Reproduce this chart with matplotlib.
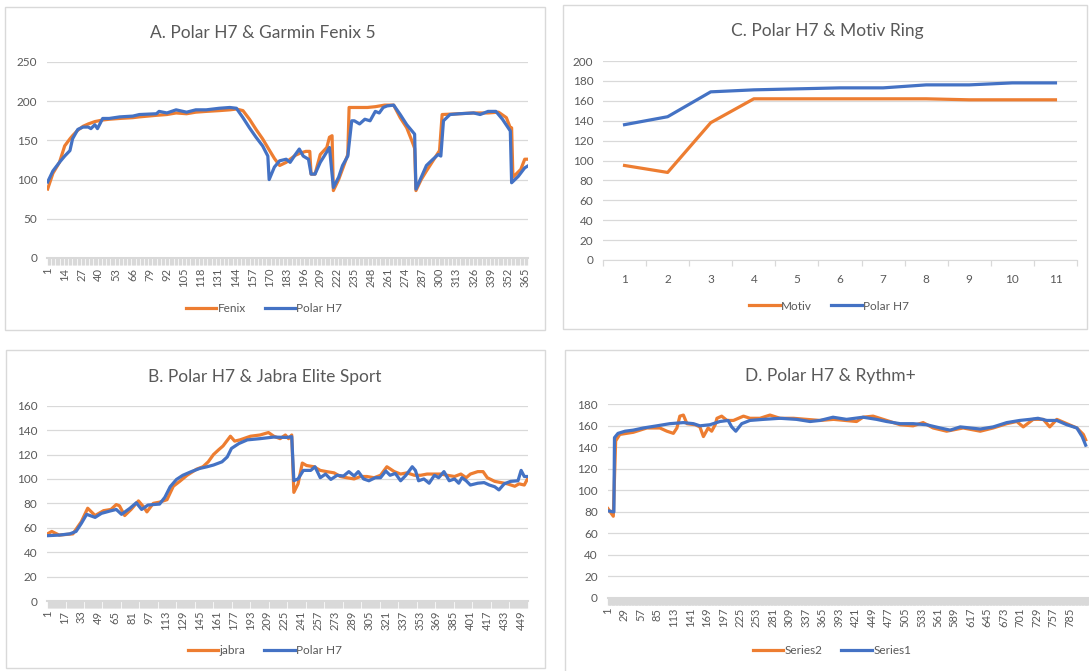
import matplotlib
matplotlib.use('Agg')
import matplotlib.pyplot as plt
from matplotlib.patches import Rectangle
from matplotlib.lines import Line2D

# ---------------- DATA ----------------
# Panel A: Polar H7 & Garmin Fenix 5 (sample index, heart rate)
a_polar_idx = [1, 5, 10, 14, 18, 20, 24, 28, 32, 34, 37, 39, 43, 48, 56, 66, 71, 84, 86, 92,
               99, 107, 114, 122, 132, 140, 145, 150, 155, 160, 165, 169, 170, 174, 178, 183,
               186, 190, 193, 196, 200, 202, 205, 209, 212, 216, 219, 223, 226, 230, 233, 235,
               239, 243, 247, 251, 254, 257, 260, 265, 270, 275, 279, 281, 282, 285, 290, 295,
               299, 301, 303, 308, 315, 326, 331, 337, 343, 348, 354, 355, 360, 365, 367]
a_polar_hr = [97, 111, 122, 130, 137, 152, 164, 167, 167, 165, 170, 165, 178, 178, 180, 181, 183, 184, 187, 185,
              189, 186, 189, 189, 191, 192, 191, 179, 166, 154, 143, 130, 100, 116, 124, 126,
              122, 132, 139, 130, 126, 107, 107, 122, 130, 141, 90, 103, 118, 130, 175, 175,
              171, 177, 175, 187, 185, 192, 194, 195, 183, 170, 162, 158, 88, 99, 118, 126,
              132, 130, 175, 183, 184, 185, 183, 187, 187, 177, 162, 96, 104, 115, 117]
a_fenix_idx = [1, 5, 10, 14, 18, 20, 24, 28, 32, 37, 43, 48, 56, 66, 71, 84, 92, 99, 107, 114,
               122, 132, 140, 145, 150, 155, 160, 165, 170, 174, 178, 183, 186, 190, 194, 198,
               201, 202, 205, 209, 214, 216, 218, 219, 223, 227, 230, 231, 245, 251, 258, 265,
               270, 275, 279, 281, 282, 286, 290, 295, 300, 302, 315, 326, 337, 345, 351, 354,
               355, 356, 362, 365, 367]
a_fenix_hr = [88, 108, 122, 143, 152, 156, 163, 168, 171, 174, 176, 177, 178, 179, 180, 182, 183, 185, 184, 186,
              187, 188, 189, 190, 188, 177, 164, 152, 138, 127, 118, 122, 126, 131, 134, 136,
              136, 107, 107, 132, 141, 154, 156, 86, 100, 118, 132, 192, 192, 193, 195, 195,
              179, 166, 149, 140, 86, 100, 111, 124, 137, 183, 184, 185, 185, 186, 179, 166,
              166, 103, 113, 126, 126]
a_n = 367
a_xlabels = list(range(1, 367, 13))

# Panel B: Polar H7 & Jabra Elite Sport
b_polar_idx = [1, 12, 22, 28, 33, 38, 46, 52, 60, 66, 71, 79, 85, 90, 96, 101, 107, 112, 117, 123,
               129, 137, 145, 152, 158, 166, 171, 175, 182, 190, 202, 215, 227, 232, 234, 238,
               243, 250, 254, 259, 264, 269, 275, 281, 286, 291, 295, 300, 305, 311, 316, 321,
               325, 330, 335, 340, 346, 349, 352, 357, 362, 367, 371, 376, 381, 386, 390, 393,
               397, 401, 408, 414, 419, 424, 428, 433, 439, 446, 449, 452, 455]
b_polar_hr = [53.5, 54, 55, 57, 63.6, 71, 68.5, 71.8, 73.7, 75, 71, 76, 80.5, 75, 78.6, 79, 79.4, 85, 93.6, 99.6,
              103, 106, 108.6, 110, 111.4, 114, 118, 125, 129, 132, 133, 134.3, 134, 134.6, 98.6, 100,
              107, 107, 110, 101, 104, 99.6, 103, 102.4, 106, 102.4, 106, 100, 98.5, 101, 101, 106.5,
              103, 104.5, 98.5, 103, 110, 107, 98.5, 100, 96.5, 103, 101, 106, 98.5, 100, 96.5, 101,
              98.5, 95, 96.5, 97, 95, 93.6, 91, 96, 98, 98.5, 107, 102, 102]
b_jabra_idx = [1, 5, 12, 25, 33, 39, 46, 54, 61, 66, 69, 74, 80, 87, 92, 95, 101, 107, 114, 120,
               126, 133, 142, 148, 153, 158, 163, 167, 174, 178, 183, 193, 202, 210, 215, 221,
               226, 229, 232, 234, 238, 242, 246, 253, 259, 265, 272, 278, 284, 291, 297, 303,
               310, 316, 322, 329, 335, 341, 348, 354, 360, 367, 373, 379, 386, 392, 397, 401,
               408, 413, 417, 424, 430, 436, 443, 447, 452, 455]
b_jabra_hr = [55, 57, 54, 55, 65, 76, 70, 74, 75, 79, 78, 70, 75, 82, 77, 73, 80, 81, 83, 94,
              98, 103, 108, 110, 114, 120, 124, 127, 135, 131, 132, 135, 136, 138, 135, 133,
              136, 133, 136, 89, 96, 113, 111, 110, 107, 106, 105, 102, 101, 100, 102, 102,
              101, 103, 110, 106, 104, 105, 103, 103, 104, 104, 104, 103, 102, 104, 101, 104,
              106, 106, 101, 98, 97, 96, 94, 96, 95, 100]
b_n = 455
b_xlabels = list(range(1, 456, 16))

# Panel C: Polar H7 & Motiv Ring
c_cats = [1, 2, 3, 4, 5, 6, 7, 8, 9, 10, 11]
c_motiv = [95, 88, 138, 162, 162, 162, 162, 162, 161, 161, 161]
c_polar = [136, 144, 169, 171, 172, 173, 173, 176, 176, 178, 178]

# Panel D: Polar H7 & Rythm+  (Series1 = Polar H7, Series2 = Rythm+)
d_s1_idx = [1, 11, 12, 18, 30, 44, 61, 84, 106, 129, 146, 157, 174, 191, 205, 211, 218, 228, 242, 265,
            293, 321, 344, 361, 383, 406, 434, 457, 474, 497, 519, 542, 565, 582, 599, 616, 633, 655,
            678, 700, 717, 731, 746, 763, 780, 797, 806, 812]
d_s1_hr = [81, 80, 149, 153, 155, 156, 158, 160, 162, 163, 162, 160, 161, 164, 165, 159, 155, 162, 165, 166,
           167, 166, 164, 165, 168, 166, 168, 166, 164, 162, 162, 161, 158, 156, 159, 158, 157, 159,
           163, 165, 166, 167, 165, 165, 161, 158, 150, 142]
d_s2_idx = [1, 10, 14, 21, 44, 67, 89, 101, 112, 118, 123, 129, 135, 149, 157, 163, 171, 177, 183, 186,
            194, 203, 214, 231, 242, 259, 276, 293, 316, 338, 361, 384, 423, 434, 451, 474, 497, 519,
            536, 553, 576, 604, 633, 655, 678, 695, 706, 723, 740, 751, 763, 780, 797, 808, 812]
d_s2_hr = [83, 76, 146, 152, 154, 158, 158, 155, 153, 158, 169, 170, 162, 161, 159, 150, 158, 155, 161, 167,
           169, 165, 165, 169, 167, 167, 170, 167, 167, 166, 165, 166, 164, 168, 169, 165, 161, 160,
           163, 158, 155, 158, 155, 158, 162, 164, 159, 166, 166, 159, 166, 162, 158, 152, 147]
d_xmax = 830
d_xlabels = list(range(1, 800, 28))

# ---------------- STYLE ----------------
W, H = 1089, 671
plt.rcParams['font.family'] = ['Lato', 'DejaVu Sans']
fig = plt.figure(figsize=(W / 100, H / 100), dpi=100)
fig.patch.set_facecolor('white')

ORANGE = '#ED7D31'
BLUE = '#4472C4'
GRID = '#D9D9D9'
TXT = '#595959'
LW = 2.3


def ax_at(x0, y0, x1, y1):
    return fig.add_axes([x0 / W, 1 - y1 / H, (x1 - x0) / W, (y1 - y0) / H])


def box(x0, y0, x1, y1):
    fig.patches.append(Rectangle((x0 / W, 1 - y1 / H), (x1 - x0) / W, (y1 - y0) / H,
                                 transform=fig.transFigure, fill=False,
                                 edgecolor=GRID, lw=1.0))


def title(x, y, s):
    fig.text(x / W, 1 - y / H, s, ha='center', va='center', fontsize=12.5, color=TXT)


def yaxis(ax, ymax, step):
    for s in ax.spines.values():
        s.set_visible(False)
    ax.set_ylim(0, ymax)
    ax.set_yticks(range(0, ymax + 1, step))
    ax.yaxis.grid(True, color=GRID, lw=0.9)
    ax.set_axisbelow(True)
    ax.tick_params(axis='y', length=0, labelsize=8.5, labelcolor=TXT, pad=7)


def cat_axis(ax, xmax, labels):
    ax.set_xlim(0.5, xmax)
    ax.set_xticks(labels)
    ax.set_xticklabels([str(v) for v in labels], rotation=90)
    ax.set_xticks(range(1, int(xmax) + 1), minor=True)
    ax.tick_params(axis='x', which='both', length=5, color=GRID, width=0.9,
                   labelsize=8, labelcolor=TXT, pad=2)
    ax.spines['bottom'].set_visible(True)
    ax.spines['bottom'].set_color(GRID)
    ax.spines['bottom'].set_linewidth(1.5)


def legend(x, y, labels):
    handles = [Line2D([], [], color=ORANGE, lw=LW), Line2D([], [], color=BLUE, lw=LW)]
    fig.legend(handles, labels, loc='center', bbox_to_anchor=(x / W, 1 - y / H),
               ncol=2, frameon=False, fontsize=8.5, labelcolor=TXT,
               handlelength=2.6, handletextpad=0.1, columnspacing=1.6)


# ---------------- PANEL A ----------------
box(5, 7, 545, 330)
axA = ax_at(47, 62, 528, 258)
yaxis(axA, 250, 50)
cat_axis(axA, a_n + 0.5, a_xlabels)
axA.plot(a_fenix_idx, a_fenix_hr, color=ORANGE, lw=LW, solid_joinstyle='round')
axA.plot(a_polar_idx, a_polar_hr, color=BLUE, lw=LW, solid_joinstyle='round')
title(263, 33, 'A. Polar H7 & Garmin Fenix 5')
legend(264, 309, ['Fenix', 'Polar H7'])

# ---------------- PANEL B ----------------
box(6, 350, 545, 668)
axB = ax_at(47, 405.7, 528, 601)
yaxis(axB, 160, 20)
cat_axis(axB, b_n + 0.5, b_xlabels)
axB.plot(b_jabra_idx, b_jabra_hr, color=ORANGE, lw=LW, solid_joinstyle='round')
axB.plot(b_polar_idx, b_polar_hr, color=BLUE, lw=LW, solid_joinstyle='round')
title(265, 377, 'B. Polar H7 & Jabra Elite Sport')
legend(265, 651, ['jabra', 'Polar H7'])

# ---------------- PANEL C ----------------
box(563, 5, 1087, 329)
axC = ax_at(603, 61, 1077, 260)
yaxis(axC, 200, 20)
axC.set_xlim(0.5, 11.5)
axC.set_xticks(c_cats)
axC.set_xticks([c - 0.5 for c in c_cats] + [11.5], minor=True)
axC.tick_params(axis='x', which='major', length=0, labelsize=8.5, labelcolor=TXT, pad=10)
axC.tick_params(axis='x', which='minor', length=4, color=GRID, width=0.9)
axC.spines['bottom'].set_visible(True)
axC.spines['bottom'].set_color(GRID)
axC.plot(c_cats, c_motiv, color=ORANGE, lw=LW, solid_joinstyle='round')
axC.plot(c_cats, c_polar, color=BLUE, lw=LW, solid_joinstyle='round')
title(827, 31, 'C. Polar H7 & Motiv Ring')
legend(829, 306, ['Motiv', 'Polar H7'])

# ---------------- PANEL D ----------------
box(565, 350, 1100, 675)
d_left = 608 - 0.5 * 0.589
axD = ax_at(d_left, 404.3, d_left + (d_xmax - 0.5) * 0.589, 598)
yaxis(axD, 180, 20)
cat_axis(axD, d_xmax, d_xlabels)
axD.plot(d_s2_idx, d_s2_hr, color=ORANGE, lw=LW, solid_joinstyle='round')
axD.plot(d_s1_idx, d_s1_hr, color=BLUE, lw=LW, solid_joinstyle='round')
title(830, 376, 'D. Polar H7 & Rythm+')
legend(832, 651, ['Series2', 'Series1'])

fig.savefig('out.png', dpi=100, facecolor='white')
